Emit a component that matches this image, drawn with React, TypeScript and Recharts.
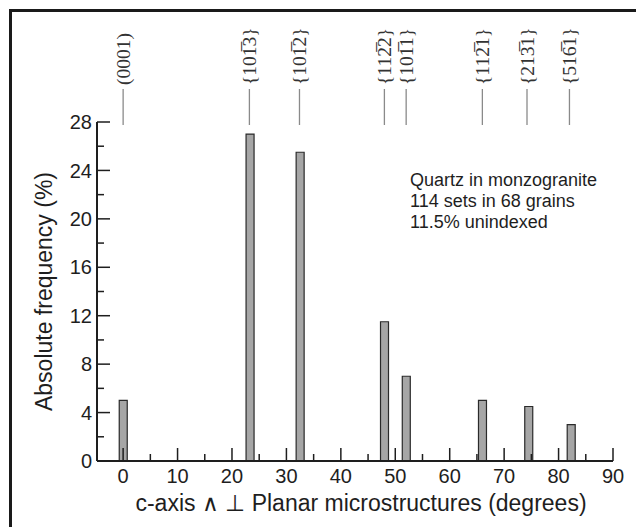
import React from 'react';
import { ComposedChart, Bar, Scatter, XAxis, YAxis } from 'recharts';

// measured bar positions (deg) and heights (%)
const barAngles = [0, 23.3, 32.5, 48, 52, 66, 74.5, 82.3];
const barFreqs = [5, 27, 25.5, 11.5, 7, 5, 4.5, 3];

// crystallographic planes marked along the top
const planeAngles = [0, 23.2, 32.4, 48, 52, 66, 74.2, 82];
const planeLabels = [
  '(0001)',
  '{101\u03053}',
  '{101\u03052}',
  '{112\u03052}',
  '{101\u03051}',
  '{112\u03051}',
  '{213\u03051}',
  '{516\u03051}',
];

const xTicks = [0, 5, 10, 15, 20, 25, 30, 35, 40, 45, 50, 55, 60, 65, 70, 75, 80, 85, 90];
const xLabelled = [0, 10, 20, 30, 40, 50, 60, 70, 80, 90];
const yTicks = [0, 2, 4, 6, 8, 10, 12, 14, 16, 18, 20, 22, 24, 26, 28];
const yLabelled = [0, 4, 8, 12, 16, 20, 24, 28];

const noteLines = ['Quartz in monzogranite', '114 sets in 68 grains', '11.5% unindexed'];

const sans = '"Liberation Sans", Arial, sans-serif';
const serif = '"Liberation Serif", "Times New Roman", serif';
const ink = '#1e1e1e';

const data = barAngles.map((a, i) => ({ angle: a, freq: barFreqs[i] }));
const planeData = planeAngles.map((a) => ({ angle: a, freq: 0 }));

const XTick = (props: any) => {
  const { x, y, payload } = props;
  const major = xLabelled.includes(payload.value);
  return (
    <g>
      <line x1={x} x2={x} y1={y} y2={y - (major ? 13 : 7)} stroke={ink} strokeWidth={1.5} />
      {major && (
        <text x={x} y={y + 22} textAnchor="middle" fontSize={20} fill={ink} fontFamily={sans}>
          {payload.value}
        </text>
      )}
    </g>
  );
};

const YTick = (props: any) => {
  const { x, y, payload } = props;
  const major = yLabelled.includes(payload.value);
  return (
    <g>
      <line x1={x} x2={x + (major ? 13 : 7)} y1={y} y2={y} stroke={ink} strokeWidth={1.5} />
      {major && (
        <text x={x - 5} y={y} dy="0.36em" textAnchor="end" fontSize={20} fill={ink} fontFamily={sans}>
          {payload.value}
        </text>
      )}
    </g>
  );
};

const PlaneTick = (props: any) => {
  const { x, y, payload } = props;
  const label = planeLabels[planeAngles.indexOf(payload.value)];
  const ty = y - 37;
  return (
    <g>
      <line x1={x} x2={x} y1={y + 3} y2={y - 33} stroke="#8a8a8a" strokeWidth={1.3} />
      <text
        x={x}
        y={ty}
        transform={`rotate(-90 ${x} ${ty})`}
        textAnchor="start"
        dominantBaseline="central"
        fontSize={19.5}
        fill="#333"
        fontFamily={serif}
      >
        {label}
      </text>
    </g>
  );
};

export default function App() {
  return (
    <div style={{ position: 'absolute', left: 0, top: 0, width: 636, height: 527, background: '#fff', overflow: 'hidden' }}>
      <div
        style={{
          position: 'absolute',
          left: 9,
          top: 9,
          width: 700,
          height: 600,
          borderLeft: '3px solid #1a1a1a',
          borderTop: '3px solid #1a1a1a',
        }}
      />
      <ComposedChart
        width={636}
        height={527}
        data={data}
        margin={{ top: 82, right: 23, left: 37, bottom: 16 }}
        style={{ position: 'absolute', left: 0, top: 0 }}
      >
        <XAxis
          dataKey="angle"
          type="number"
          domain={[-4.8, 90]}
          allowDataOverflow
          ticks={xTicks}
          interval={0}
          tick={XTick}
          tickSize={0}
          tickMargin={0}
          tickLine={false}
          axisLine={{ stroke: ink, strokeWidth: 2 }}
          height={50}
          label={{
            value: 'c-axis \u2227 \u22a5 Planar microstructures (degrees)',
            position: 'insideBottom',
            offset: 0,
            dx: 6,
            style: { fontSize: 23, fill: ink, fontFamily: sans },
          }}
        />
        <XAxis
          xAxisId="top"
          dataKey="angle"
          orientation="top"
          type="number"
          domain={[-4.8, 90]}
          allowDataOverflow
          ticks={planeAngles}
          interval={0}
          tick={PlaneTick}
          tickSize={0}
          tickMargin={0}
          tickLine={false}
          axisLine={false}
          height={40}
        />
        <YAxis
          type="number"
          domain={[0, 28]}
          allowDataOverflow
          ticks={yTicks}
          interval={0}
          tick={YTick}
          tickSize={0}
          tickMargin={0}
          tickLine={false}
          axisLine={{ stroke: ink, strokeWidth: 2 }}
          width={60}
          label={{
            value: 'Absolute frequency (%)',
            angle: -90,
            position: 'insideLeft',
            offset: 7,
            style: { textAnchor: 'middle', fontSize: 23, fill: ink, fontFamily: sans },
          }}
        />
        <Bar dataKey="freq" barSize={8} fill="#a6a6a6" stroke="#2a2a2a" strokeWidth={1.2} isAnimationActive={false} />
        <Scatter
          xAxisId="top"
          data={planeData}
          dataKey="freq"
          shape={() => <g />}
          isAnimationActive={false}
        />
      </ComposedChart>
      <div
        style={{
          position: 'absolute',
          left: 410,
          top: 170,
          fontFamily: sans,
          fontSize: 18,
          lineHeight: '21px',
          color: ink,
          whiteSpace: 'nowrap',
        }}
      >
        {noteLines.map((t) => (
          <div key={t}>{t}</div>
        ))}
      </div>
    </div>
  );
}
